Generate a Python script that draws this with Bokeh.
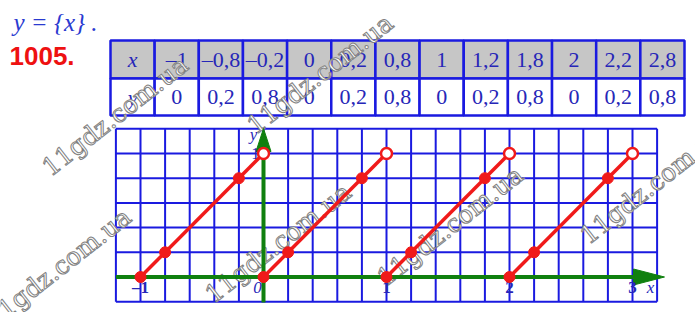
from bokeh.plotting import figure
from bokeh.models import Range1d
from bokeh.core.properties import value
from bokeh.embed import file_html
from bokeh.resources import INLINE
import math

# ---------------- data ----------------
table_x_labels = ["–1", "–0,8", "–0,2", "0", "0,2", "0,8", "1", "1,2", "1,8", "2", "2,2", "2,8"]
table_y_labels = ["0", "0,2", "0,8", "0", "0,2", "0,8", "0", "0,2", "0,8", "0", "0,2", "0,8"]
x_points = [-1, -0.8, -0.2, 0, 0.2, 0.8, 1, 1.2, 1.8, 2, 2.2, 2.8]
y_points = [0, 0.2, 0.8, 0, 0.2, 0.8, 0, 0.2, 0.8, 0, 0.2, 0.8]
segment_starts = [-1, 0, 1, 2]
tick_values = [-1, 0, 1, 2, 3]
tick_labels = ["–1", "0", "1", "2", "3"]
title_text = "y = {x} ."
number_text = "1005."
watermark_text = "11gdz.com.ua"

# ---------------- layout (pixels) ----------------
W, H = 695, 312
X0, UX = 263.0, 123.0     # pixel of x=0, pixels per unit
Y0, UY = 276.5, 123.5     # pixel of y=0, pixels per unit


def X(px):
    return (px - X0) / UX


def Y(py):
    return (Y0 - py) / UY


BLUE = "#1a1ae0"
TXT_BLUE = "#2626b8"
GREEN = "#10800f"
RED = "#f01a1a"

p = figure(width=W, height=H, output_backend="svg", toolbar_location=None,
           x_range=Range1d(X(0), X(W)), y_range=Range1d(Y(H), Y(0)),
           x_axis_type=None, y_axis_type=None, min_border=0)
p.outline_line_color = None
p.xgrid.visible = False
p.ygrid.visible = False
p.background_fill_color = "white"
p.border_fill_color = "white"

# ---------------- title texts ----------------
p.text(x=[X(13)], y=[Y(22)], text=[title_text], text_font=value("Liberation Serif"),
       text_font_style="italic", text_font_size="25px", text_color="#2a3ad0",
       text_baseline="middle", text_align="left")
p.text(x=[X(9)], y=[Y(55)], text=[number_text], text_font=value("Liberation Sans"),
       text_font_style="bold", text_font_size="26px", text_color="#ee1111",
       text_baseline="middle", text_align="left")

# ---------------- table ----------------
T_LEFT, T_RIGHT = 110.0, 684.0
T_TOP, T_MID, T_BOT = 40.0, 78.0, 115.0
ncols = len(table_x_labels) + 1
cw = (T_RIGHT - T_LEFT) / ncols
lefts = [X(T_LEFT + i * cw) for i in range(ncols)]
rights = [X(T_LEFT + (i + 1) * cw) for i in range(ncols)]
p.quad(left=lefts, right=rights, top=[Y(T_TOP)] * ncols, bottom=[Y(T_MID)] * ncols,
       fill_color="#c6c6c6", line_color=BLUE, line_width=2.5)
p.quad(left=lefts, right=rights, top=[Y(T_MID)] * ncols, bottom=[Y(T_BOT)] * ncols,
       fill_color="white", line_color=BLUE, line_width=2.5)
centers = [(a + b) / 2 for a, b in zip(lefts, rights)]
p.text(x=[centers[0]], y=[Y((T_TOP + T_MID) / 2)], text=["x"], text_font=value("Liberation Serif"),
       text_font_style="italic", text_font_size="22px", text_color=TXT_BLUE,
       text_align="center", text_baseline="middle")
p.text(x=[centers[0]], y=[Y((T_MID + T_BOT) / 2)], text=["y"], text_font=value("Liberation Serif"),
       text_font_style="italic", text_font_size="22px", text_color=TXT_BLUE,
       text_align="center", text_baseline="middle")
p.text(x=centers[1:], y=[Y((T_TOP + T_MID) / 2)] * len(table_x_labels), text=table_x_labels,
       text_font=value("Liberation Serif"), text_font_size="22px", text_color=TXT_BLUE,
       text_align="center", text_baseline="middle")
p.text(x=centers[1:], y=[Y((T_MID + T_BOT) / 2)] * len(table_y_labels), text=table_y_labels,
       text_font=value("Liberation Serif"), text_font_size="22px", text_color=TXT_BLUE,
       text_align="center", text_baseline="middle")

# ---------------- grid ----------------
gx = [round(-1.2 + 0.2 * i, 1) for i in range(23)]
gy = [round(-0.2 + 0.2 * i, 1) for i in range(8)]
p.multi_line(xs=[[v, v] for v in gx], ys=[[gy[0], gy[-1]] for _ in gx], line_color=BLUE, line_width=2)
p.multi_line(xs=[[gx[0], gx[-1]] for _ in gy], ys=[[v, v] for v in gy], line_color=BLUE, line_width=2)

# ---------------- watermarks ----------------
wm_px = [(45, 170), (-12, 322), (250, 128), (208, 297), (380, 280), (583, 238)]
p.text(x=[X(a) for a, b in wm_px], y=[Y(b) for a, b in wm_px], text=[watermark_text] * len(wm_px),
       angle=math.radians(38), text_font=value("DejaVu Serif"), text_font_size="25px",
       text_color="white", text_outline_color="#808080", text_align="left", text_baseline="middle")

# ---------------- axes ----------------
p.line(x=[gx[0], X(640)], y=[0, 0], line_color=GREEN, line_width=4)
p.line(x=[0, 0], y=[Y(302), Y(148)], line_color=GREEN, line_width=4)
p.patch(x=[X(633), X(664), X(633)], y=[Y(268.5), Y(276.5), Y(284.5)], fill_color=GREEN, line_color=GREEN)
p.patch(x=[X(255.5), X(263), X(270.5)], y=[Y(151), Y(128), Y(151)], fill_color=GREEN, line_color=GREEN)

# tick labels
p.text(x=[v for v in tick_values if v != 0], y=[Y(287)] * 4, text=[t for v, t in zip(tick_values, tick_labels) if v != 0],
       text_font=value("Liberation Serif"), text_font_style="bold", text_font_size="17px", text_color=TXT_BLUE,
       text_align="center", text_baseline="middle")
p.text(x=[X(257)], y=[Y(287)], text=["0"], text_font=value("Liberation Serif"), text_font_style="italic",
       text_font_size="17px", text_color=TXT_BLUE, text_align="center", text_baseline="middle")
p.text(x=[X(650)], y=[Y(287)], text=["x"], text_font=value("Liberation Serif"), text_font_style="italic",
       text_font_size="17px", text_color=TXT_BLUE, text_align="center", text_baseline="middle")
p.text(x=[X(253)], y=[Y(134)], text=["y"], text_font=value("Liberation Serif"), text_font_style="italic",
       text_font_size="17px", text_color=TXT_BLUE, text_align="center", text_baseline="middle")
p.text(x=[X(255)], y=[1], text=["1"], text_font=value("Liberation Serif"),
       text_font_size="17px", text_color=TXT_BLUE, text_align="center", text_baseline="middle")

# ---------------- function graph ----------------
p.multi_line(xs=[[s, s + 1] for s in segment_starts], ys=[[0, 1] for _ in segment_starts],
             line_color=RED, line_width=3.5)
p.scatter(x=x_points, y=y_points, size=11, fill_color=RED, line_color=RED)
p.scatter(x=[s + 1 for s in segment_starts], y=[1] * len(segment_starts), size=11,
          fill_color="white", line_color=RED, line_width=2.5)

open("out.html", "w").write(file_html(p, INLINE))
